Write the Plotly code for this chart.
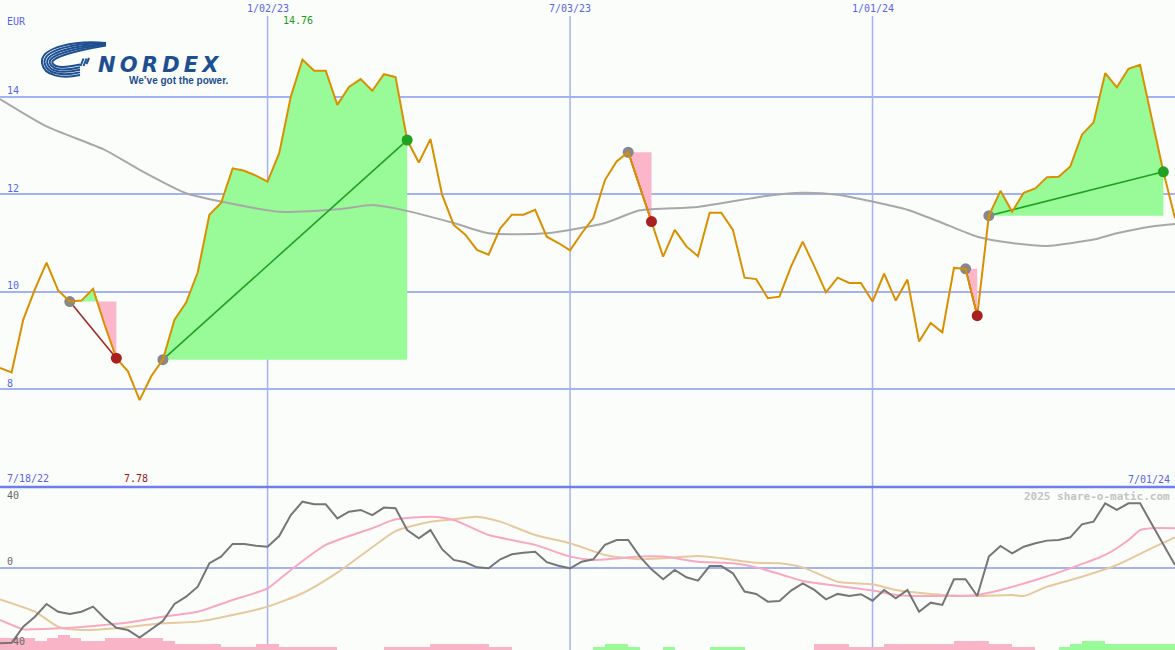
import plotly.graph_objects as go
import pandas as pd

W, H = 1175, 650

# ---------------- data ----------------
start = pd.Timestamp("2022-07-25")
end = pd.Timestamp("2024-07-01")
n_weeks = 102
dates = [start + pd.Timedelta(weeks=k) for k in range(n_weeks)]

price = [8.44, 8.35, 9.43, 10.05, 10.60, 10.03, 9.80, 9.82, 10.06, 9.32,
         8.64, 8.37, 7.78, 8.27, 8.61, 9.43, 9.78, 10.40, 11.58, 11.82,
         12.53, 12.48, 12.38, 12.26, 12.84, 14.00, 14.76, 14.53, 14.53, 13.83,
         14.20, 14.36, 14.12, 14.46, 14.40, 13.11, 12.65, 13.13, 11.99, 11.37,
         11.17, 10.86, 10.76, 11.30, 11.58, 11.58, 11.68, 11.13, 11.00, 10.85,
         11.20, 11.51, 12.29, 12.67, 12.86, 12.15, 11.44, 10.72, 11.27, 10.93,
         10.73, 11.62, 11.62, 11.27, 10.29, 10.26, 9.87, 9.90, 10.52, 11.03,
         10.52, 9.99, 10.29, 10.18, 10.18, 9.80, 10.37, 9.82, 10.25, 8.98,
         9.36, 9.17, 10.49, 10.47, 9.51, 11.56, 12.07, 11.64, 12.03, 12.12,
         12.35, 12.36, 12.57, 13.22, 13.47, 14.48, 14.19, 14.57, 14.65, 13.56,
         12.46, 11.51]

ma_weeks = [0, 4, 9, 12, 16, 19, 24, 29, 32, 34, 39, 42, 47, 52, 55, 60, 66, 69, 72,
            75, 78, 81, 84, 87, 90, 94, 96, 99, 101]
ma_vals = [13.95, 13.39, 12.91, 12.50, 12.02, 11.85, 11.64, 11.69, 11.78, 11.71,
           11.41, 11.20, 11.20, 11.41, 11.67, 11.74, 11.97, 12.03, 11.99, 11.85,
           11.68, 11.41, 11.13, 11.00, 10.94, 11.07, 11.20, 11.34, 11.39]

# trade signals: (entry week, exit week)
signals = [(6, 10), (14, 35), (54, 56), (83, 84), (85, 100)]

osc = [-45.8, -45.5, -35.8, -29.7, -22.0, -26.7, -28.1, -26.7, -23.6, -30.7,
       -36.4, -37.8, -42.4, -37.3, -32.3, -22.0, -17.6, -11.5, 2.7, 6.7,
       14.4, 14.4, 13.3, 12.7, 19.2, 31.9, 40.0, 38.4, 38.4, 29.9,
       33.9, 35.0, 31.9, 36.4, 36.0, 22.8, 17.8, 22.8, 11.2, 4.7,
       3.3, 0.2, -0.4, 5.1, 8.1, 9.1, 9.7, 3.3, 1.2, -0.4,
       3.6, 5.1, 13.8, 16.8, 16.8, 6.7, -1.0, -7.0, -1.4, -5.8,
       -7.9, 1.0, 1.0, -3.4, -14.5, -15.9, -20.6, -20.2, -13.9, -9.5,
       -13.5, -19.2, -15.9, -17.2, -16.1, -20.0, -13.5, -18.5, -13.5, -26.7,
       -21.2, -22.6, -7.0, -7.0, -17.2, 6.7, 13.2, 8.7, 12.7, 14.8,
       16.4, 16.8, 18.4, 26.3, 27.9, 39.0, 35.0, 39.0, 39.0, 26.5,
       14.4, 1.6]

pink_weeks = [0, 1, 2, 3, 6, 9, 11, 14, 17, 20, 23, 25, 28, 32, 34, 37, 39, 42, 46, 49,
              51, 55, 57, 60, 63, 65, 67, 69, 72, 75, 77, 80, 84, 86, 89, 92, 95, 97, 98, 99, 101]
pink_vals = [-31.7, -34.7, -37.4, -37.3, -36.4, -34.7, -33.3, -29.7, -26.7, -19.6,
             -12.5, -1.4, 13.8, 23.9, 29.3, 30.9, 28.9, 19.8, 13.8, 6.7,
             4.7, 6.7, 6.7, 3.6, 2.7, 0.2, -3.8, -8.1, -11.1, -13.9,
             -16.5, -17.2, -16.5, -13.5, -7.5, -0.4, 7.7, 16.8, 22.8, 23.9, 23.9]

tan_weeks = [0, 3, 5, 7, 10, 14, 17, 20, 23, 26, 29, 32, 34, 37, 39, 41, 43, 46, 49, 52,
             55, 57, 60, 62, 65, 67, 69, 72, 75, 77, 81, 84, 87, 88, 90, 93, 96, 99, 101]
tan_vals = [-19.2, -26.7, -35.8, -37.8, -36.7, -33.7, -32.7, -28.7, -23.6, -15.5,
            -3.0, 12.4, 22.2, 27.9, 29.3, 30.9, 27.9, 19.8, 14.8, 7.7,
            5.1, 5.7, 7.1, 5.7, 3.0, 2.7, 0.2, -8.5, -10.1, -13.5,
            -16.5, -17.2, -16.5, -17.2, -11.5, -5.5, 1.6, 11.8, 18.4]

# weekly histogram levels (negative = pink, positive = green)
hist = [-4, -4, -4, -3, -4, -5, -4, -3, -3, -4,
        -4, -4, -4, -4, -3, -2, -2, -2, -2, -1,
        -1, -1, -2, -2, -1, -1, -1, -1, -1, 0,
        0, 0, 0, -1, -1, -1, -1, -2, -2, -2,
        -2, -2, -1, -1, 0, 0, 0, 0, 0, 0,
        0, 1, 2, 2, 1, 0, 0, 1, 0, 0,
        0, 1, 1, 1, 0, 0, 0, 0, 0, 0,
        -2, -2, -2, -1, -1, -1, -2, -2, -2, -2,
        -2, -2, -3, -3, -3, -2, -2, -1, -1, 0,
        0, 1, 2, 3, 3, 2, 2, 2, 2, 2,
        2]

price_ticks = [8, 10, 12, 14]
osc_ticks = [40, 0, -40]
vline_dates = ["2023-01-02", "2023-07-03", "2024-01-01"]
vline_labels = ["1/02/23", "7/03/23", "1/01/24"]
period_labels = ["7/18/22", "7/01/24"]

# ---------------- styles ----------------
BG = "#fbfdfb"
GRID = "#a4b2f2"
BLUE_TXT = "#5a64e6"
MONO = "DejaVu Sans Mono"
GREEN_FILL = "#98fb98"
PINK_FILL = "#fbb6c9"
LOGO = "#1d4f91"

fig = go.Figure()


def fill_polys(i0, i1):
    L = price[i0]
    xs, ys = [], []
    for k in range(i0, i1 + 1):
        if k > i0:
            p0, p1 = price[k - 1], price[k]
            if (p0 - L) * (p1 - L) < 0:
                t = (L - p0) / (p1 - p0)
                xs.append(dates[k - 1] + (dates[k] - dates[k - 1]) * t)
                ys.append(L)
        xs.append(dates[k])
        ys.append(price[k])
    up = [max(y, L) for y in ys] + [L, L]
    dn = [min(y, L) for y in ys] + [L, L]
    cx = xs + [xs[-1], xs[0]]
    return cx, up, dn


for i0, i1 in signals:
    cx, up, dn = fill_polys(i0, i1)
    fig.add_trace(go.Scatter(x=cx, y=up, fill="toself", fillcolor=GREEN_FILL,
                             line=dict(width=0), mode="lines", hoverinfo="skip"))
    fig.add_trace(go.Scatter(x=cx, y=dn, fill="toself", fillcolor=PINK_FILL,
                             line=dict(width=0), mode="lines", hoverinfo="skip"))

# moving average
fig.add_trace(go.Scatter(x=[dates[k] for k in ma_weeks], y=ma_vals, mode="lines",
                         line=dict(color="#a8a8a8", width=2, shape="spline", smoothing=0.6)))

# signal connecting lines
for i0, i1 in signals:
    win = price[i1] > price[i0]
    fig.add_trace(go.Scatter(x=[dates[i0], dates[i1]], y=[price[i0], price[i1]], mode="lines",
                             line=dict(color="#22a022" if win else "#a02828", width=1.6)))

# entry dots
fig.add_trace(go.Scatter(x=[dates[i0] for i0, _ in signals], y=[price[i0] for i0, _ in signals],
                         mode="markers", marker=dict(size=11, color="#888888")))

# price line
fig.add_trace(go.Scatter(x=dates, y=price, mode="lines", line=dict(color="#d99000", width=2)))

# exit dots
fig.add_trace(go.Scatter(x=[dates[i1] for _, i1 in signals], y=[price[i1] for _, i1 in signals],
                         mode="markers",
                         marker=dict(size=11, color=["#22a022" if price[i1] > price[i0] else "#a82020"
                                                     for i0, i1 in signals])))

# ---------------- lower panel ----------------
fig.add_trace(go.Bar(x=dates[:len(hist)], y=[abs(v) for v in hist], offset=0,
                     width=7 * 24 * 3600 * 1000,
                     marker=dict(color=[GREEN_FILL if v > 0 else "#f9b4c8" for v in hist],
                                 line=dict(width=0)),
                     xaxis="x", yaxis="y2"))
fig.add_trace(go.Scatter(x=[dates[k] for k in tan_weeks], y=tan_vals, mode="lines",
                         line=dict(color="#e6c99c", width=2, shape="spline", smoothing=0.6),
                         xaxis="x", yaxis="y3"))
fig.add_trace(go.Scatter(x=[dates[k] for k in pink_weeks], y=pink_vals, mode="lines",
                         line=dict(color="#f8a8c2", width=2, shape="spline", smoothing=0.6),
                         xaxis="x", yaxis="y3"))
fig.add_trace(go.Scatter(x=dates, y=osc, mode="lines", line=dict(color="#767676", width=2),
                         xaxis="x", yaxis="y3"))

split = 163 / H  # lower panel height fraction

shapes = []
for d in vline_dates:
    shapes.append(dict(type="line", xref="x", yref="paper", x0=d, x1=d, y0=0, y1=1 - 16 / H,
                       line=dict(color=GRID, width=1.5), layer="below"))
shapes.append(dict(type="line", xref="paper", yref="paper", x0=0, x1=1, y0=split, y1=split,
                   line=dict(color="#6e7ef0", width=2.5), layer="below"))


# logo swoosh
def pp(x, y):
    return f"{x / W:.5f},{1 - y / H:.5f}"


for j in range(5):
    s = 2.6 * j
    path = ("M " + pp(106, 43 + 0.6 * j) +
            " C " + pp(76, 40 + s) + " " + pp(40 + s, 47 + s) + " " + pp(42 + s, 63) +
            " C " + pp(44 + s, 76 - 0.8 * s) + " " + pp(62, 79 - s) + " " + pp(80, 75 - s))
    shapes.append(dict(type="path", xref="paper", yref="paper", path=path,
                       line=dict(color=LOGO, width=2)))
for (xa, ya, xb, yb) in [(80.5, 66, 83.5, 58.5), (83.5, 66, 86.5, 58.5), (86.5, 64, 89, 58)]:
    shapes.append(dict(type="line", xref="paper", yref="paper", x0=xa / W, y0=1 - ya / H,
                       x1=xb / W, y1=1 - yb / H, line=dict(color=LOGO, width=2)))

ann = []


def txt(text, x, y, color=BLUE_TXT, size=10, xanchor="left", family=MONO, xref="paper",
        xshift=0):
    ann.append(dict(text=text, x=x if xref != "paper" else x / W, y=1 - y / H, xref=xref,
                    yref="paper", showarrow=False, xanchor=xanchor, yanchor="middle",
                    font=dict(family=family, size=size, color=color), xshift=xshift))


txt("EUR", 5, 21.5)
for d, lab in zip(vline_dates, vline_labels):
    txt(lab, d, 9, xanchor="center", xref="x")
for t in price_ticks:
    ann.append(dict(text=str(t), x=5 / W, y=t, xref="paper", yref="y", showarrow=False,
                    xanchor="left", yanchor="middle", yshift=6,
                    font=dict(family=MONO, size=10, color=BLUE_TXT)))
for t in osc_ticks:
    ann.append(dict(text=str(t), x=5 / W, y=t, xref="paper", yref="y3", showarrow=False,
                    xanchor="left", yanchor="middle", yshift=6 if t >= 0 else -8,
                    font=dict(family=MONO, size=10, color="#666666")))

imax = price.index(max(price))
imin = price.index(min(price))
txt(f"{price[imax]:.2f}", dates[imax], 21, color="#1a9a1a", xanchor="center", xref="x", xshift=-4)
txt(f"{price[imin]:.2f}", dates[imin], 478, color="#a01818", xanchor="center", xref="x", xshift=-4)
txt(period_labels[0], 5, 478)
txt(period_labels[1], 1172, 479, xanchor="right")
txt("<b>2025 share-o-matic.com</b>", 1172, 496, color="#c4c4c4", size=11, xanchor="right")

# logo text
txt("<b><i>N\u2009O\u2009R\u2009D\u2009E\u2009X</i></b>", 96, 64.5, color=LOGO, size=21,
    family="DejaVu Sans")
txt("<b>We\u2019ve got the power.</b>", 127, 81, color=LOGO, size=10,
    family="Liberation Sans")

fig.update_layout(
    width=W, height=H, margin=dict(l=0, r=0, t=0, b=0),
    paper_bgcolor=BG, plot_bgcolor=BG, showlegend=False, bargap=0, hovermode=False,
    xaxis=dict(range=[start, end], showgrid=False, showticklabels=False, zeroline=False,
               showline=False, ticks=""),
    yaxis=dict(domain=[split, 1], range=[6.0, 15.98], tickvals=price_ticks, showgrid=True,
               gridcolor=GRID, gridwidth=2, showticklabels=False, zeroline=False, ticks=""),
    yaxis2=dict(domain=[0, split], range=[0, 163 / 3], anchor="x", showgrid=False,
                showticklabels=False, zeroline=False, ticks=""),
    yaxis3=dict(overlaying="y2", anchor="x", range=[-49.9, 48.9], tickvals=[0], showgrid=True,
                gridcolor=GRID, gridwidth=2, showticklabels=False, zeroline=False, ticks=""),
    shapes=shapes, annotations=ann,
)

fig.write_html("out.html", config={"displayModeBar": False},
               post_script="document.body.style.margin='0';document.body.style.padding='0';"
                           "document.body.style.overflow='hidden';")
